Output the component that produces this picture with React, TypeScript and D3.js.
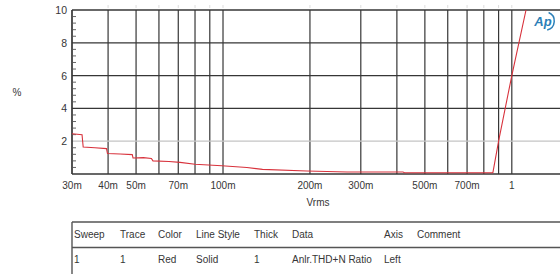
import React, { useEffect, useRef } from "react";
import * as d3 from "d3";

// trace: Anlr.THD+N Ratio (%) vs level (Vrms)
const levels = [
  0.03, 0.0325, 0.0328, 0.036, 0.0395, 0.0398, 0.044, 0.0485, 0.0488, 0.053, 0.0565, 0.0572,
  0.065, 0.071, 0.08, 0.099, 0.121, 0.137, 0.195, 0.269, 0.35, 0.42, 0.425, 0.6, 0.86, 0.9,
  1.0, 1.12, 1.2,
];
const thd = [
  2.45, 2.4, 1.65, 1.6, 1.55, 1.25, 1.22, 1.18, 0.98, 1.0, 0.95, 0.8,
  0.76, 0.71, 0.59, 0.5, 0.4, 0.28, 0.18, 0.12, 0.12, 0.12, 0.08, 0.08, 0.08, 2.0,
  6.0, 10.0, 12.5,
];

const xGrid = [0.04, 0.05, 0.06, 0.07, 0.08, 0.09, 0.1, 0.2, 0.3, 0.4, 0.5, 0.6, 0.7, 0.8, 0.9, 1, 2];
const xLabels: [number, string][] = [
  [0.03, "30m"], [0.04, "40m"], [0.05, "50m"], [0.07, "70m"], [0.1, "100m"],
  [0.2, "200m"], [0.3, "300m"], [0.5, "500m"], [0.7, "700m"], [1, "1"],
];
const yTicks = [2, 4, 6, 8, 10];

const tableHeaders = ["Sweep", "Trace", "Color", "Line Style", "Thick", "Data", "Axis", "Comment"];
const tableRow = ["1", "1", "Red", "Solid", "1", "Anlr.THD+N Ratio", "Left", ""];
const tableCols = [74, 120, 158, 196, 254, 292, 384, 417];

const App = () => {
  const svgRef = useRef<SVGSVGElement>(null);

  useEffect(() => {
    const svg = d3.select(svgRef.current);
    svg.selectAll("*").remove();

    const left = 72, top = 10, bottom = 174;
    const x = d3.scaleLog().domain([0.03, 2]).range([left, left + 288.8 * Math.log10(2 / 0.03)]);
    const y = d3.scaleLinear().domain([0, 10]).range([bottom, top]);
    const right = x(2);
    const font = "'Liberation Sans', Arial, sans-serif";
    const ink = "#363636";

    svg.append("defs").append("clipPath").attr("id", "plot")
      .append("rect").attr("x", left).attr("y", top).attr("width", right - left).attr("height", bottom - top);

    // vertical grid
    svg.append("g").selectAll("line").data(xGrid).join("line")
      .attr("x1", (d) => x(d)).attr("x2", (d) => x(d))
      .attr("y1", top).attr("y2", bottom)
      .attr("stroke", ink).attr("stroke-width", 1.2);
    svg.append("g").selectAll("line").data(xGrid).join("line")
      .attr("x1", (d) => x(d)).attr("x2", (d) => x(d))
      .attr("y1", top - 5).attr("y2", top - 2)
      .attr("stroke", "#ddd").attr("stroke-width", 1);

    // horizontal grid
    svg.append("g").selectAll("line").data(yTicks.filter((d) => d < 10)).join("line")
      .attr("x1", left).attr("x2", right)
      .attr("y1", (d) => y(d)).attr("y2", (d) => y(d))
      .attr("stroke", (d) => (d === 2 ? "#c4c4c4" : ink)).attr("stroke-width", 1.2);

    // frame
    svg.append("line").attr("x1", left).attr("x2", right).attr("y1", top).attr("y2", top)
      .attr("stroke", ink).attr("stroke-width", 1.3);
    svg.append("line").attr("x1", left).attr("x2", right).attr("y1", bottom).attr("y2", bottom)
      .attr("stroke", ink).attr("stroke-width", 1.5);
    svg.append("line").attr("x1", left).attr("x2", left).attr("y1", top).attr("y2", bottom)
      .attr("stroke", ink).attr("stroke-width", 1.7);

    // minor ticks on left axis
    const minor = d3.range(0, 10.01, 0.4).filter((v) => Math.abs(v % 2) > 0.01 && Math.abs((v % 2) - 2) > 0.01);
    svg.append("g").selectAll("line").data(minor).join("line")
      .attr("x1", left).attr("x2", left + 4)
      .attr("y1", (d) => y(d)).attr("y2", (d) => y(d))
      .attr("stroke", "#555").attr("stroke-width", 0.9);

    // y labels
    svg.append("g").selectAll("text").data(yTicks).join("text")
      .attr("x", left - 5).attr("y", (d) => y(d) + 4)
      .attr("text-anchor", "end").attr("font-family", font).attr("font-size", 10.5)
      .attr("fill", ink).text((d) => d);
    svg.append("text").attr("x", 17).attr("y", 96).attr("text-anchor", "middle")
      .attr("font-family", font).attr("font-size", 10).attr("fill", ink).text("%");

    // x labels
    svg.append("g").selectAll("text").data(xLabels).join("text")
      .attr("x", (d) => x(d[0])).attr("y", 189)
      .attr("text-anchor", "middle").attr("font-family", font).attr("font-size", 10)
      .attr("fill", ink).text((d) => d[1]);
    svg.append("text").attr("x", 318).attr("y", 206).attr("text-anchor", "middle")
      .attr("font-family", font).attr("font-size", 10).attr("fill", ink).text("Vrms");

    // trace
    const pts = levels.map((v, i) => [v, thd[i]] as [number, number]);
    svg.append("path").datum(pts)
      .attr("clip-path", "url(#plot)")
      .attr("d", d3.line<[number, number]>().x((d) => x(d[0])).y((d) => y(d[1])))
      .attr("fill", "none").attr("stroke", "#d8323c").attr("stroke-width", 1.1);

    // AP logo
    const logo = svg.append("g").attr("transform", "translate(545,21)");
    logo.append("text").attr("x", -2).attr("y", 5).attr("text-anchor", "middle")
      .attr("font-family", font).attr("font-style", "italic").attr("font-weight", "bold")
      .attr("font-size", 13).attr("fill", "#2b7fb8").text("Ap");
    logo.append("path").attr("d", d3.arc()({ innerRadius: 8.5, outerRadius: 10, startAngle: 0.4, endAngle: 2.9 }) as string)
      .attr("fill", "#2b7fb8");

    // table
    const tTop = 222, tLeft = 72;
    svg.append("line").attr("x1", tLeft).attr("x2", 560).attr("y1", tTop).attr("y2", tTop)
      .attr("stroke", "#555").attr("stroke-width", 1.4);
    svg.append("line").attr("x1", tLeft).attr("x2", 560).attr("y1", 247.5).attr("y2", 247.5)
      .attr("stroke", "#555").attr("stroke-width", 1.4);
    svg.append("line").attr("x1", tLeft).attr("x2", tLeft).attr("y1", tTop).attr("y2", 274)
      .attr("stroke", "#555").attr("stroke-width", 1.4);
    svg.append("g").selectAll("text").data(tableHeaders).join("text")
      .attr("x", (_, i) => tableCols[i]).attr("y", 238)
      .attr("font-family", font).attr("font-size", 10).attr("fill", ink).text((d) => d);
    svg.append("g").selectAll("text").data(tableRow).join("text")
      .attr("x", (_, i) => tableCols[i]).attr("y", 263)
      .attr("font-family", font).attr("font-size", 10).attr("fill", ink).text((d) => d);
  }, []);

  return (
    <svg
      ref={svgRef}
      width={560}
      height={274}
      style={{ position: "absolute", left: 0, top: 0, background: "#fff" }}
    />
  );
};

export default App;
